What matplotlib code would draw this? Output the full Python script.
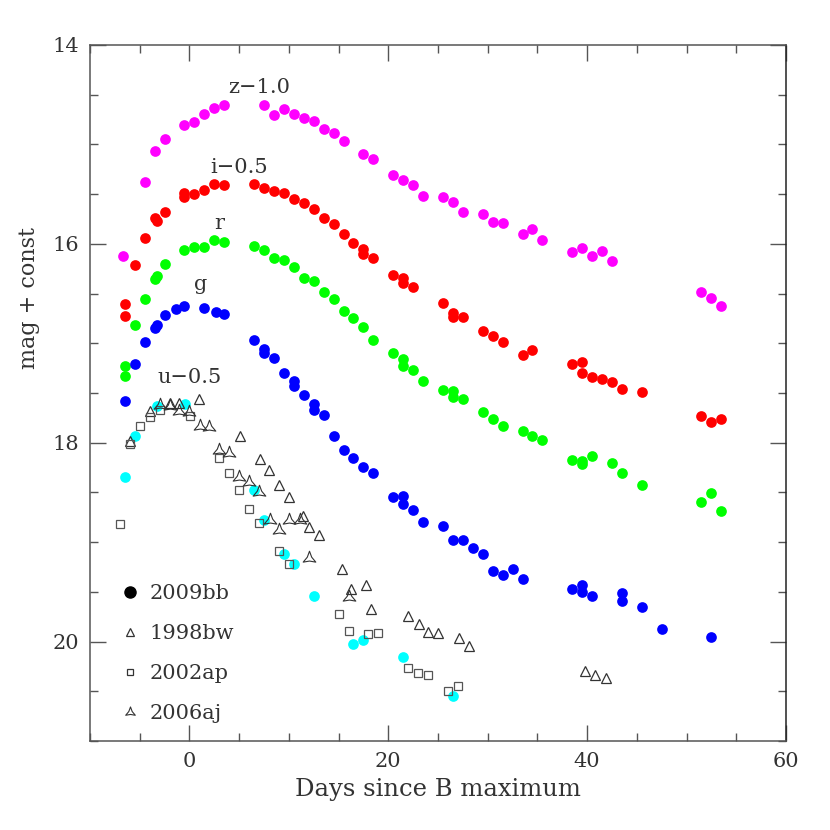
import matplotlib
matplotlib.use('Agg')
import matplotlib.pyplot as plt
from matplotlib.lines import Line2D
from matplotlib.path import Path
from matplotlib.ticker import MultipleLocator

# SN 2009bb light curves (offset bands), days since B max
z_day = [-6.7, -4.5, -3.5, -2.5, -0.5, 0.5, 1.5, 2.5, 3.5, 7.5, 8.5, 9.5, 10.5, 11.5,
         12.5, 13.5, 14.5, 15.5, 17.5, 18.5, 20.5, 21.5, 22.5, 23.5, 25.5, 26.5, 27.5,
         29.5, 30.5, 31.5, 33.5, 34.5, 35.5, 38.5, 39.5, 40.5, 41.5, 42.5, 51.5, 52.5, 53.5]
z_mag = [16.12, 15.38, 15.07, 14.95, 14.80, 14.77, 14.69, 14.63, 14.60, 14.60, 14.70, 14.64,
         14.69, 14.73, 14.76, 14.84, 14.89, 14.97, 15.10, 15.15, 15.31, 15.36, 15.41, 15.52,
         15.53, 15.58, 15.68, 15.70, 15.78, 15.79, 15.90, 15.85, 15.96, 16.08, 16.04, 16.12,
         16.07, 16.17, 16.48, 16.54, 16.63]

i_day = [-6.5, -6.5, -5.5, -4.5, -3.5, -3.3, -2.5, -0.5, -0.5, 0.5, 1.5, 2.5, 3.5, 6.5, 7.5,
         8.5, 9.5, 10.5, 11.5, 12.5, 13.5, 14.5, 15.5, 16.5, 17.5, 17.5, 18.5, 20.5, 21.5,
         21.5, 22.5, 25.5, 26.5, 26.5, 27.5, 29.5, 30.5, 31.5, 33.5, 34.5, 38.5, 39.5, 39.5,
         40.5, 41.5, 42.5, 43.5, 45.5, 51.5, 52.5, 53.5]
i_mag = [16.60, 16.73, 16.21, 15.94, 15.74, 15.77, 15.68, 15.49, 15.53, 15.50, 15.46, 15.40,
         15.41, 15.40, 15.44, 15.47, 15.49, 15.55, 15.59, 15.65, 15.74, 15.80, 15.90, 15.99,
         16.05, 16.10, 16.14, 16.31, 16.34, 16.39, 16.43, 16.59, 16.70, 16.74, 16.74, 16.88,
         16.93, 16.99, 17.12, 17.07, 17.21, 17.19, 17.30, 17.34, 17.36, 17.39, 17.46, 17.49,
         17.73, 17.79, 17.76]

r_day = [-6.5, -6.5, -5.5, -4.5, -3.5, -3.3, -2.5, -0.5, 0.5, 1.5, 2.5, 3.5, 6.5, 7.5, 8.5,
         9.5, 10.5, 11.5, 12.5, 13.5, 14.5, 15.5, 16.5, 17.5, 18.5, 20.5, 21.5, 21.5, 22.5,
         23.5, 25.5, 26.5, 26.5, 27.5, 29.5, 30.5, 31.5, 33.5, 34.5, 35.5, 38.5, 39.5, 39.5,
         40.5, 42.5, 43.5, 45.5, 51.5, 52.5, 53.5]
r_mag = [17.23, 17.33, 16.82, 16.55, 16.35, 16.32, 16.20, 16.06, 16.03, 16.03, 15.96, 15.98,
         16.02, 16.06, 16.14, 16.16, 16.23, 16.34, 16.37, 16.48, 16.55, 16.68, 16.75, 16.84,
         16.97, 17.10, 17.16, 17.23, 17.27, 17.38, 17.47, 17.48, 17.54, 17.56, 17.69, 17.76,
         17.83, 17.88, 17.93, 17.97, 18.17, 18.18, 18.21, 18.13, 18.20, 18.30, 18.43, 18.60,
         18.51, 18.69]

g_day = [-6.5, -5.5, -4.5, -3.5, -3.3, -2.5, -1.3, -0.5, 1.5, 2.7, 3.5, 6.5, 7.5, 7.5, 8.5,
         9.5, 10.5, 10.5, 11.5, 12.5, 12.5, 13.5, 14.5, 15.5, 16.5, 17.5, 18.5, 20.5, 21.5,
         21.5, 22.5, 23.5, 25.5, 26.5, 27.5, 28.5, 29.5, 30.5, 31.5, 32.5, 33.5, 38.5, 39.5,
         39.5, 40.5, 43.5, 43.5, 45.5, 47.5, 52.5]
g_mag = [17.58, 17.21, 16.99, 16.85, 16.82, 16.72, 16.66, 16.63, 16.65, 16.69, 16.71, 16.97,
         17.06, 17.10, 17.15, 17.30, 17.38, 17.43, 17.52, 17.61, 17.67, 17.72, 17.93, 18.07,
         18.15, 18.24, 18.30, 18.55, 18.54, 18.62, 18.68, 18.80, 18.84, 18.98, 18.98, 19.06,
         19.12, 19.29, 19.33, 19.27, 19.37, 19.47, 19.43, 19.50, 19.54, 19.51, 19.59, 19.65,
         19.87, 19.95]

u_day = [-6.5, -5.5, -3.3, -0.45, 6.5, 7.5, 9.5, 10.5, 12.5, 16.5, 17.5, 21.5, 26.5]
u_mag = [18.34, 17.93, 17.63, 17.61, 18.48, 18.78, 19.12, 19.22, 19.54, 20.02, 19.98, 20.15, 20.55]

# comparison SNe (u band)
bw_day = [-6.0, -4.0, -2.0, -1.0, 1.0, 5.1, 7.1, 8.0, 9.0, 10.0, 11.4, 12.0, 13.0, 15.35,
          16.3, 17.8, 18.3, 22.0, 23.1, 24.0, 25.0, 27.1, 28.1, 39.75, 40.8, 41.9]
bw_mag = [17.98, 17.68, 17.60, 17.60, 17.56, 17.93, 18.16, 18.27, 18.43, 18.55, 18.74, 18.85,
          18.93, 19.27, 19.47, 19.43, 19.67, 19.74, 19.82, 19.90, 19.91, 19.96, 20.04, 20.30,
          20.34, 20.37]

ap_day = [-7.0, -6.0, -5.0, -4.0, -3.0, 0.05, 3.0, 4.0, 5.0, 6.0, 7.0, 9.0, 10.0, 15.0, 16.0,
          18.0, 19.0, 22.0, 23.0, 24.0, 26.0, 27.0]
ap_mag = [18.82, 18.01, 17.83, 17.74, 17.67, 17.73, 18.15, 18.30, 18.48, 18.67, 18.81, 19.09,
          19.22, 19.72, 19.89, 19.92, 19.91, 20.27, 20.32, 20.34, 20.50, 20.45]

aj_day = [-3.0, -2.0, -1.0, 0.0, 1.1, 2.0, 3.0, 4.0, 5.0, 6.0, 7.0, 8.1, 9.0, 10.0, 11.1, 12.0, 16.0]
aj_mag = [17.62, 17.63, 17.68, 17.69, 17.83, 17.84, 18.07, 18.10, 18.34, 18.40, 18.50, 18.78,
          18.88, 18.78, 18.78, 19.16, 19.55]

band_labels = ['z\u22121.0', 'i\u22120.5', 'r', 'g', 'u\u22120.5']
band_label_pos = [(7.0, 14.43), (5.0, 15.23), (3.0, 15.80), (1.1, 16.41), (0.0, 17.34)]
legend_names = ['2009bb', '1998bw', '2002ap', '2006aj']

plt.rcParams['font.family'] = ['DejaVu Serif']
FS = 15
INK = '#333333'
star3 = Path.unit_regular_star(3, 0.35)

fig = plt.figure(figsize=(8.3, 8.3), dpi=100)
ax = fig.add_axes([0.1084, 0.1072, 0.8386, 0.8386])

dot = dict(ls='none', marker='o', ms=7.7, mec='none')
ax.plot(z_day, z_mag, color='#ff00ff', **dot)
ax.plot(i_day, i_mag, color='#ff0000', **dot)
ax.plot(r_day, r_mag, color='#00ff00', **dot)
ax.plot(g_day, g_mag, color='#0000ff', **dot)
ax.plot(u_day, u_mag, color='#00ffff', **dot)

ax.plot(bw_day, bw_mag, ls='none', marker='^', ms=7, mfc='none', mec=INK, mew=0.9)
ax.plot(ap_day, ap_mag, ls='none', marker='s', ms=6, mfc='none', mec='#555555', mew=0.9)
ax.plot(aj_day, aj_mag, ls='none', marker=star3, ms=10.5, mfc='none', mec=INK, mew=0.8)

for lab, (x, y) in zip(band_labels, band_label_pos):
    ax.text(x, y, lab, fontsize=FS, color=INK, ha='center', va='center')

handles = [
    Line2D([], [], ls='none', marker='o', ms=8, color='black'),
    Line2D([], [], ls='none', marker='^', ms=6, mfc='none', mec=INK, mew=0.9),
    Line2D([], [], ls='none', marker='s', ms=5, mfc='none', mec=INK, mew=0.9),
    Line2D([], [], ls='none', marker=star3, ms=8, mfc='none', mec=INK, mew=0.8),
]
leg = ax.legend(handles, legend_names, loc='lower left', bbox_to_anchor=(0.042, 0.026),
                frameon=False, fontsize=FS, handlelength=1.0, handletextpad=0.45,
                labelspacing=1.0, borderpad=0, borderaxespad=0)
for t in leg.get_texts():
    t.set_color(INK)

ax.set_xlim(-10, 60)
ax.set_ylim(21, 14)
ax.xaxis.set_major_locator(MultipleLocator(20))
ax.xaxis.set_minor_locator(MultipleLocator(5))
ax.yaxis.set_major_locator(MultipleLocator(2))
ax.yaxis.set_minor_locator(MultipleLocator(0.5))
ax.tick_params(which='both', direction='in', top=True, right=True, colors='#555555',
               labelcolor=INK, labelsize=FS)
ax.tick_params(which='major', length=11.5, width=1.0, pad=8)
ax.tick_params(which='minor', length=6, width=1.0)
for s in ax.spines.values():
    s.set_color('#555555')
    s.set_linewidth(1.1)
ax.spines['right'].set_color('#222222')

ax.set_xlabel('Days since B maximum', fontsize=17.5, color=INK, labelpad=5)
ax.set_ylabel('mag + const', fontsize=16, color=INK)
ax.yaxis.set_label_coords(-0.072, 0.636)

fig.savefig('out.png', dpi=100)
